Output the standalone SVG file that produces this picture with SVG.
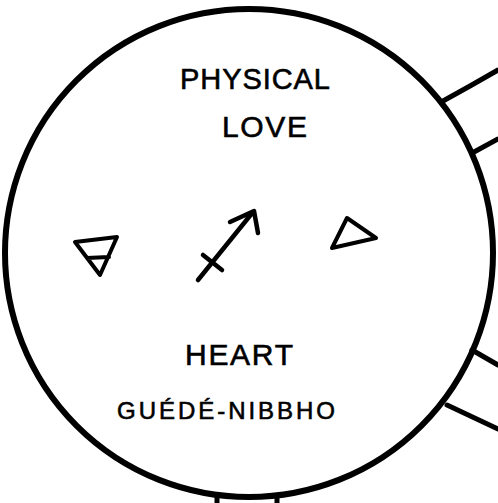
<svg xmlns="http://www.w3.org/2000/svg" width="498" height="503" viewBox="0 0 498 503">
<style>
.ink{fill:none;stroke:#000;stroke-linecap:round;stroke-linejoin:round}
.lbl{font-family:"Liberation Sans",Arial,sans-serif;fill:#000;stroke:#000;stroke-width:0.6;text-anchor:start}
</style>
<rect width="498" height="503" fill="#fff"/>
<g id="connectors">
<path class="ink" stroke-width="5" d="M443,101 L470,86 L498,70"/>
<path class="ink" stroke-width="5" d="M474,152 L498,139"/>
<path class="ink" stroke-width="5" d="M472,350 L498,365"/>
<path class="ink" stroke-width="5" d="M447,405 L498,429"/>
<path class="ink" stroke-width="5" d="M217,496 L217,503 M277,496 L277,503"/>
</g>
<g id="heart-sphere">
<ellipse class="ink" stroke-width="6" cx="249" cy="253" rx="244" ry="244"/>
<text class="lbl" x="180" y="89" font-size="29" textLength="150" lengthAdjust="spacing">PHYSICAL</text>
<text class="lbl" x="222" y="137" font-size="30" textLength="85" lengthAdjust="spacing">LOVE</text>
<g id="earth-symbol">
<path class="ink" stroke-width="4" d="M75,242 L117,237 L100,275 Z M87,258 L109,257"/>
</g>
<g id="sagittarius-symbol">
<path class="ink" stroke-width="4.5" d="M198,280 L253,212 M230,222 L254,211 L258,233 M203,255 L222,270"/>
</g>
<g id="fire-symbol">
<path class="ink" stroke-width="4" d="M332,248 L347,218 L376,238 Z"/>
</g>
<text class="lbl" x="185" y="365" font-size="30" textLength="108" lengthAdjust="spacing">HEART</text>
<text class="lbl" x="117" y="419" font-size="24" textLength="218" lengthAdjust="spacing">GUÉDÉ-NIBBHO</text>
</g>
</svg>
